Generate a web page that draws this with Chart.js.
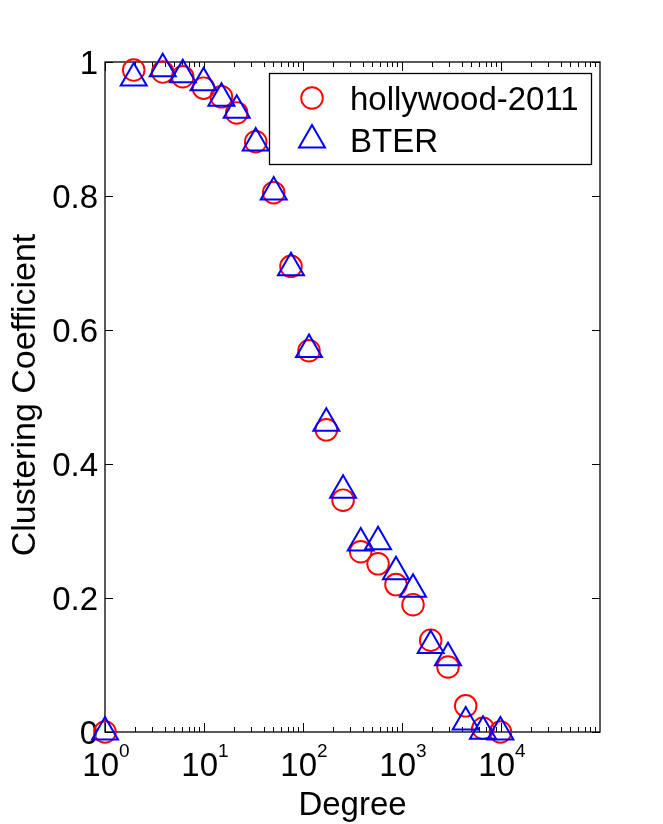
<!DOCTYPE html>
<html>
<head>
<meta charset="utf-8">
<script src="https://cdn.jsdelivr.net/npm/chart.js@4.4.0/dist/chart.umd.min.js"></script>
<style>
html,body{margin:0;padding:0;background:#ffffff;}
#wrap{width:663px;height:824px;position:relative;}
canvas{display:block;}
</style>
</head>
<body>
<div id="wrap"><canvas id="c" width="663" height="824"></canvas></div>
<script>
// ---- data ----
const degrees = [1, 1.95, 3.83, 6.1, 9.9, 15, 21.4, 33.3, 50.6, 75.6, 115, 172, 254, 383, 573, 869, 1292, 1950, 2917, 4400, 6580, 9860];
const hollywood = [0.0, 0.988, 0.985, 0.978, 0.961, 0.948, 0.924, 0.881, 0.805, 0.695, 0.569, 0.451, 0.346, 0.269, 0.251, 0.220, 0.190, 0.137, 0.097, 0.039, 0.0055, 0.0];
const bter = [0.0, 0.976, 0.990, 0.981, 0.969, 0.946, 0.928, 0.879, 0.806, 0.693, 0.571, 0.461, 0.361, 0.282, 0.284, 0.239, 0.213, 0.129, 0.111, 0.015, 0.001, 0.0];
const seriesNames = ['hollywood-2011', 'BTER'];
const yTicks = [0, 0.2, 0.4, 0.6, 0.8, 1];
const yTickLabels = ['0', '0.2', '0.4', '0.6', '0.8', '1'];
const xDecades = [1, 10, 100, 1000, 10000];
const xTickExponents = ['0', '1', '2', '3', '4'];
const xTitle = 'Degree';
const yTitle = 'Clustering Coefficient';

const FONT = '"Liberation Sans", Arial, Helvetica, sans-serif';
const FS = 33;
const RED = '#ff0000';
const BLUE = '#0000ff';

function drawMarker(ctx, style, x, y, r, color, lw) {
  ctx.save();
  ctx.strokeStyle = color;
  ctx.lineWidth = lw;
  ctx.beginPath();
  if (style === 'circle') {
    ctx.arc(x, y, r, 0, Math.PI * 2);
  } else {
    let rad = 0;
    const T = Math.PI * 2 / 3;
    ctx.moveTo(x + Math.sin(rad) * r, y - Math.cos(rad) * r);
    rad += T;
    ctx.lineTo(x + Math.sin(rad) * r, y - Math.cos(rad) * r);
    rad += T;
    ctx.lineTo(x + Math.sin(rad) * r, y - Math.cos(rad) * r);
    ctx.closePath();
  }
  ctx.stroke();
  ctx.restore();
}

const axesPlugin = {
  id: 'matlabAxes',
  beforeDatasetsDraw(chart) {
    const ctx = chart.ctx;
    const a = chart.chartArea;
    const xs = chart.scales.x, ys = chart.scales.y;
    ctx.save();
    ctx.strokeStyle = '#000';
    ctx.lineWidth = 1.3;
    ctx.strokeRect(a.left, a.top, a.right - a.left, a.bottom - a.top);
    ctx.lineWidth = 1;
    ctx.beginPath();
    // x ticks (log, inward, top and bottom)
    for (let e = 0; e <= 4; e++) {
      for (let m = 1; m <= 9; m++) {
        const v = m * Math.pow(10, e);
        if (v > xs.max) break;
        const px = Math.round(xs.getPixelForValue(v)) + 0.5;
        const len = m === 1 ? 9 : 5;
        ctx.moveTo(px, a.bottom); ctx.lineTo(px, a.bottom - len);
        ctx.moveTo(px, a.top); ctx.lineTo(px, a.top + len);
      }
    }
    // y ticks
    yTicks.forEach(t => {
      const py = Math.round(ys.getPixelForValue(t)) + 0.5;
      ctx.moveTo(a.left, py); ctx.lineTo(a.left + 8, py);
      ctx.moveTo(a.right, py); ctx.lineTo(a.right - 8, py);
    });
    ctx.stroke();

    ctx.fillStyle = '#000';
    // y tick labels
    ctx.font = FS + 'px ' + FONT;
    ctx.textAlign = 'right';
    ctx.textBaseline = 'alphabetic';
    yTicks.forEach((t, i) => {
      const py = ys.getPixelForValue(t);
      ctx.fillText(yTickLabels[i], a.left - 7, py + 12);
    });
    // x tick labels with superscripts
    ctx.textAlign = 'left';
    xDecades.forEach((v, i) => {
      const px = xs.getPixelForValue(v);
      ctx.font = FS + 'px ' + FONT;
      const w1 = ctx.measureText('10').width;
      ctx.font = '19px ' + FONT;
      const w2 = ctx.measureText(xTickExponents[i]).width;
      const start = px - (w1 + w2) / 2 + 1;
      ctx.font = FS + 'px ' + FONT;
      ctx.fillText('10', start, 776);
      ctx.font = '19px ' + FONT;
      ctx.fillText(xTickExponents[i], start + w1, 757);
    });
    // axis titles
    ctx.font = FS + 'px ' + FONT;
    ctx.textAlign = 'center';
    ctx.fillText(xTitle, (a.left + a.right) / 2, 815);
    ctx.save();
    ctx.font = '34px ' + FONT;
    ctx.translate(35, (a.top + a.bottom) / 2 - 2);
    ctx.rotate(-Math.PI / 2);
    ctx.fillText(yTitle, 0, 0);
    ctx.restore();
    ctx.restore();
  },
  afterDatasetsDraw(chart) {
    const ctx = chart.ctx;
    ctx.save();
    // legend box
    ctx.fillStyle = '#fff';
    ctx.fillRect(269.5, 73.5, 322, 91);
    ctx.strokeStyle = '#000';
    ctx.lineWidth = 1.3;
    ctx.strokeRect(269.5, 73.5, 322, 91);
    const ds = chart.data.datasets;
    drawMarker(ctx, 'circle', 312, 98, ds[1].pointRadius, ds[1].borderColor, ds[1].borderWidth);
    drawMarker(ctx, 'triangle', 312, 140, ds[0].pointRadius, ds[0].borderColor, ds[0].borderWidth);
    ctx.fillStyle = '#000';
    ctx.font = FS + 'px ' + FONT;
    ctx.textAlign = 'left';
    ctx.textBaseline = 'alphabetic';
    ctx.fillText(seriesNames[0], 350, 110);
    ctx.fillText(seriesNames[1], 350, 152);
    ctx.restore();
  }
};

const ctx = document.getElementById('c').getContext('2d');
new Chart(ctx, {
  type: 'scatter',
  data: {
    datasets: [
      {
        label: seriesNames[1],
        data: degrees.map((d, i) => ({ x: d, y: bter[i] })),
        pointStyle: 'triangle',
        pointRadius: 15,
        pointHoverRadius: 15,
        borderColor: BLUE,
        backgroundColor: 'rgba(0,0,0,0)',
        borderWidth: 2,
        clip: false,
        order: 1
      },
      {
        label: seriesNames[0],
        data: degrees.map((d, i) => ({ x: d, y: hollywood[i] })),
        pointStyle: 'circle',
        pointRadius: 10.8,
        pointHoverRadius: 10.8,
        borderColor: RED,
        backgroundColor: 'rgba(0,0,0,0)',
        borderWidth: 1.9,
        clip: false,
        order: 2
      }
    ]
  },
  options: {
    responsive: false,
    animation: false,
    devicePixelRatio: 1,
    layout: { padding: { left: 105, right: 63, top: 62, bottom: 92 } },
    scales: {
      x: { type: 'logarithmic', min: 1, max: 100000, display: false },
      y: { type: 'linear', min: 0, max: 1, display: false }
    },
    plugins: {
      legend: { display: false },
      tooltip: { enabled: false }
    }
  },
  plugins: [axesPlugin]
});
</script>
</body>
</html>
